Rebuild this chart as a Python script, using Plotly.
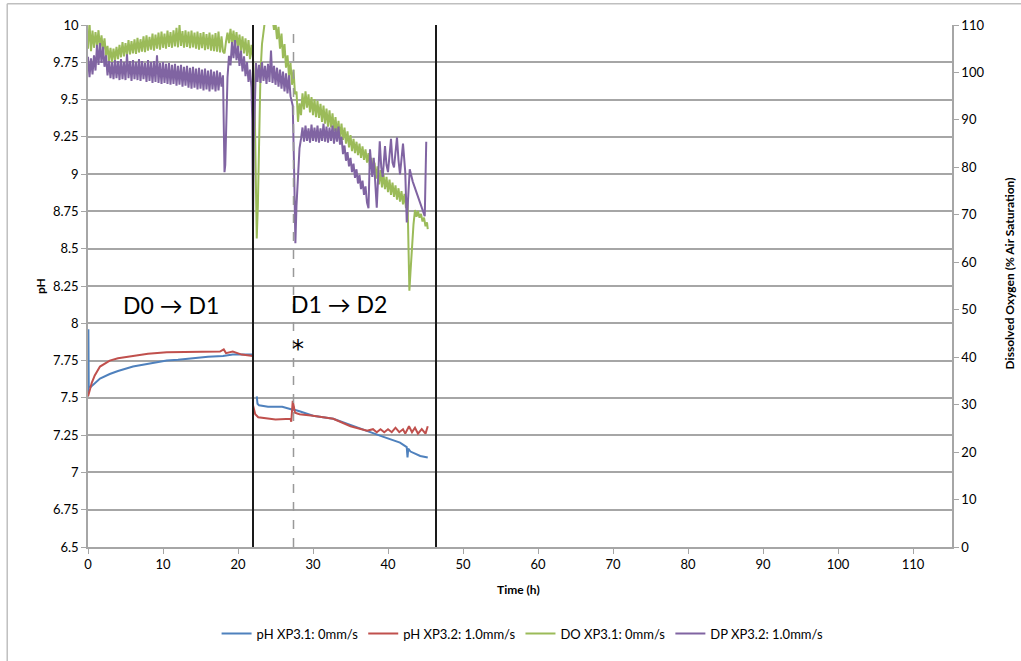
import plotly.graph_objects as go

# ---------------- data ----------------
# pH XP3.1 (blue), time in hours; None breaks the line
ph1_t = [0.0, 0.05, 0.1, 0.3, 0.5, 0.9, 1.6, 2.9, 4.0, 6.0, 8.0, 10.5, 12.0, 14.9, 16.0, 18.0, 19.3, 20.0, 22.0,
         None,
         22.5, 22.6, 22.8, 24.0, 25.9, 26.5, 27.3, 27.4, 27.5, 28.2, 30.0, 32.7, 35.0, 37.2, 39.3, 41.6, 42.5, 42.6,
         42.7, 43.0, 44.3, 45.3]
ph1_v = [7.51, 7.96, 7.58, 7.57, 7.58, 7.60, 7.63, 7.66, 7.68, 7.71, 7.73, 7.75, 7.755, 7.77, 7.775, 7.78, 7.79,
         7.79, 7.79,
         None,
         7.51, 7.46, 7.45, 7.44, 7.44, 7.43, 7.42, 7.44, 7.42, 7.41, 7.38, 7.36, 7.32, 7.28, 7.24, 7.20, 7.17, 7.10,
         7.16, 7.14, 7.11, 7.10]

# pH XP3.2 (red)
ph2_t = [0.0, 0.5, 0.9, 1.6, 2.9, 4.0, 6.0, 8.0, 10.5, 14.9, 17.6, 18.1, 18.4, 19.3, 20.5, 22.0,
         None,
         22.0, 22.3, 22.7, 24.0, 25.0, 27.0, 27.1, 27.3, 27.4, 27.6, 28.2, 30.0, 32.7, 35.0, 37.2, 38.0, 38.5, 39.0,
         39.5, 40.0, 40.5, 41.0, 41.5, 42.0, 42.3, 42.8, 43.2, 43.6, 44.0, 44.5, 45.0, 45.3]
ph2_v = [7.51, 7.60, 7.65, 7.71, 7.75, 7.765, 7.78, 7.795, 7.805, 7.81, 7.81, 7.825, 7.80, 7.81, 7.79, 7.78,
         None,
         7.45, 7.39, 7.37, 7.36, 7.355, 7.36, 7.34, 7.48, 7.45, 7.40, 7.39, 7.38, 7.36, 7.31, 7.28, 7.29, 7.27, 7.29,
         7.27, 7.29, 7.27, 7.30, 7.27, 7.29, 7.26, 7.31, 7.27, 7.30, 7.26, 7.29, 7.26, 7.31]

# DO XP3.1 (green), % air saturation; logged every 0.2 h in regular blocks
do1_a_start, do1_a_step = 0.0, 0.2
do1_a = [105.0, 110.5, 104.5, 108.8, 105.2, 108.5, 105.6, 108.9, 105.0, 107.8, 104.6, 107.2, 103.5, 105.6, 102.4,
         105.2, 102.2, 105.0, 102.6, 105.4, 102.8, 105.8, 103.2, 106.4, 103.4, 106.2, 103.6, 106.8, 103.8, 106.6,
         104.0, 107.0, 103.9, 107.3, 104.2, 107.0, 104.4, 107.6, 104.3, 107.8, 104.6, 107.5, 104.8, 108.2, 104.6,
         108.0, 105.0, 108.4, 104.8, 108.6, 105.2, 108.2, 105.0, 108.8, 105.4, 108.5, 105.2, 108.9, 105.5, 109.4,
         105.3, 110.0, 105.6, 108.7, 105.2, 108.9, 105.4, 108.6, 105.1, 108.8, 105.3, 108.4, 105.0, 108.6, 104.8,
         108.3, 105.1, 108.5, 104.7, 108.1, 104.9, 108.4, 104.6, 108.0, 104.5, 108.3, 104.4, 108.6, 104.2, 107.6,
         104.4]
do1_b_start, do1_b_step = 18.2, 0.2
do1_b = [104.0, 106.5, 108.4, 106.2, 109.2, 106.0, 108.8, 105.6, 108.5, 105.2, 108.0, 104.6, 107.6, 104.0, 107.2,
         103.5, 106.8, 102.8, 105.8]
do1_c_t = [22.0, 22.2, 22.35, 22.5, 22.65, 22.8, 23.0, 23.2, 23.4, 23.6, 23.8, 24.0, 24.2, 24.4, 24.6, 24.8]
do1_c = [103.0, 96.0, 80.0, 65.0, 72.0, 88.0, 100.0, 106.0, 109.0, 111.0, 112.5, 110.5, 112.0, 110.2, 111.5, 109.0]
do1_d_start, do1_d_step = 25.0, 0.2
do1_d = [110.5, 107.0, 109.6, 105.0, 108.2, 103.0, 106.0, 101.0, 103.6, 99.2, 102.0, 97.4, 100.6, 95.4, 96.0,
         89.6, 93.5, 91.0, 95.6, 92.2, 96.0, 92.6, 95.4, 91.6, 94.8, 91.0, 94.4, 90.6, 94.0, 90.4, 93.4, 89.6, 93.0,
         89.2, 92.4, 88.6, 92.0, 88.4, 91.4, 87.6, 90.6, 87.0, 89.8, 86.2, 89.2, 85.8, 88.4, 85.0, 87.6, 84.2, 86.8,
         83.4, 86.0, 83.0, 85.4, 82.6, 85.0, 82.0, 84.4, 81.6, 83.8, 81.0, 83.0, 80.0, 82.0, 78.8, 81.0, 77.6, 80.2,
         76.4, 79.4, 75.8, 78.6, 75.4, 78.0, 74.8, 77.4, 74.2, 76.8, 73.8, 76.2, 73.2, 75.6, 72.8, 75.0, 72.2, 74.4,
         71.4, 73.6]
do1_e_t = [42.75, 42.85, 43.0, 43.2, 43.4, 43.6, 43.8, 44.0, 44.2, 44.4, 44.6, 44.8, 45.0, 45.2, 45.3]
do1_e = [62.0, 54.0, 58.0, 64.0, 68.0, 71.0, 69.6, 70.8, 69.4, 70.2, 68.6, 69.4, 67.6, 68.4, 67.0]

# DP XP3.2 (purple), % air saturation
dp2_a_start, dp2_a_step = 0.0, 0.2
dp2_a = [103.3, 99.0, 103.0, 99.6, 103.6, 100.4, 105.8, 101.6, 106.2, 102.0, 105.4, 101.2, 103.6, 99.4, 102.4,
         98.8, 102.2, 98.6, 102.6, 98.8, 102.4, 98.4, 102.8, 98.6, 102.2, 98.4, 103.8, 98.8, 102.4, 98.2, 102.6,
         98.6, 102.2, 98.4, 102.8, 98.2, 102.4, 98.6, 102.0, 98.0, 102.6, 98.2, 102.2, 97.8, 102.4, 98.0, 103.6,
         97.8, 102.0, 97.6, 102.2, 97.8, 101.8, 97.6, 102.0, 97.4, 101.6, 97.6, 101.8, 97.2, 101.4, 97.4, 101.6,
         97.0, 101.2, 97.2, 101.4, 96.8, 101.0, 96.6, 101.2, 96.8, 100.8, 96.4, 101.0, 96.6, 100.6, 96.2, 100.8,
         96.4, 100.4, 96.0, 100.6, 96.4, 100.2, 96.0, 100.4, 96.2, 100.0, 97.0, 99.4]
dp2_b_t = [18.1, 18.2, 18.3, 18.45, 18.6, 18.8, 19.0, 19.2, 19.4, 19.6, 19.8, 20.0, 20.2, 20.4, 20.6, 20.8, 21.0,
           21.2, 21.4, 21.6, 21.8, 21.9, 22.0, 22.1, 22.3]
dp2_b = [90.0, 79.0, 80.5, 90.0, 99.0, 103.5, 101.5, 106.4, 103.0, 106.8, 102.6, 105.6, 101.4, 104.6, 100.2,
         103.4, 99.2, 102.2, 98.0, 100.6, 96.8, 90.0, 67.0, 85.0, 99.0]
dp2_c_start, dp2_c_step = 22.4, 0.2
dp2_c = [102.0, 98.0, 101.6, 97.8, 102.2, 98.2, 101.4, 97.6, 101.8, 98.0, 104.6, 97.8, 101.4, 97.4, 101.0, 97.0,
         100.6, 96.6, 100.2, 96.0, 99.8, 95.6, 99.4]
dp2_d_t = [27.0, 27.3, 27.5, 27.65, 27.8, 28.0, 28.2, 28.4]
dp2_d = [95.0, 93.0, 78.0, 64.0, 72.0, 80.0, 84.0, 86.0]
dp2_e_start, dp2_e_step = 28.6, 0.2
dp2_e = [88.4, 85.4, 88.8, 85.6, 88.2, 85.2, 89.0, 85.6, 88.4, 85.4, 88.8, 85.2, 88.2, 85.6, 89.2, 85.4, 88.6,
         85.2, 88.4, 85.6, 88.8, 85.0, 88.2, 85.4, 88.6, 84.8, 86.4, 82.8, 84.6, 81.4, 83.2, 80.2, 82.0, 79.0, 80.8,
         77.8, 79.6, 76.6, 78.4, 75.4, 77.2, 74.2, 76.0, 72.6, 71.4]
dp2_f_t = [37.6, 37.9, 38.1, 38.5, 38.9, 39.1, 39.3, 39.6, 39.8, 40.0, 40.4, 40.6, 40.8, 41.2, 41.4, 41.6, 42.0,
           42.3, 42.5, 42.9, 43.3, 43.6, 44.0, 44.4, 44.9, 45.0, 45.1]
dp2_f = [83.8, 78.0, 82.0, 71.5, 85.5, 80.0, 78.0, 84.5, 80.5, 79.0, 86.0, 81.0, 80.0, 86.3, 81.5, 78.5, 85.0,
         79.0, 68.4, 79.6, 77.0, 75.5, 74.0, 72.0, 69.7, 78.0, 85.4]

x_ticks = [0, 10, 20, 30, 40, 50, 60, 70, 80, 90, 100, 110]
ph_ticks = [6.5, 6.75, 7, 7.25, 7.5, 7.75, 8, 8.25, 8.5, 8.75, 9, 9.25, 9.5, 9.75, 10]
ph_tick_text = ["6.5", "6.75", "7", "7.25", "7.5", "7.75", "8", "8.25", "8.5", "8.75", "9", "9.25", "9.5",
                "9.75", "10"]
do_ticks = [0, 10, 20, 30, 40, 50, 60, 70, 80, 90, 100, 110]
transitions = [22.0, 46.4]
sampling_event = 27.4


def regular(start, step, values):
    return [round(start + step * i, 3) for i in range(len(values))]


do1_t = (regular(do1_a_start, do1_a_step, do1_a) + regular(do1_b_start, do1_b_step, do1_b) + do1_c_t
         + regular(do1_d_start, do1_d_step, do1_d) + do1_e_t)
do1_v = do1_a + do1_b + do1_c + do1_d + do1_e
dp2_t = (regular(dp2_a_start, dp2_a_step, dp2_a) + dp2_b_t + regular(dp2_c_start, dp2_c_step, dp2_c) + dp2_d_t
         + regular(dp2_e_start, dp2_e_step, dp2_e) + dp2_f_t)
dp2_v = dp2_a + dp2_b + dp2_c + dp2_d + dp2_e + dp2_f

# ---------------- figure ----------------
FONT = "Lato, 'Open Sans', sans-serif"
GRID = "#A6A6A6"
AXIS = "#A6A6A6"

fig = go.Figure()
fig.add_trace(go.Scatter(x=ph1_t, y=ph1_v, mode="lines", name="pH XP3.1: 0mm/s",
                         line=dict(color="#4F81BD", width=2), yaxis="y"))
fig.add_trace(go.Scatter(x=ph2_t, y=ph2_v, mode="lines", name="pH XP3.2: 1.0mm/s",
                         line=dict(color="#C0504D", width=2), yaxis="y"))
fig.add_trace(go.Scatter(x=do1_t, y=do1_v, mode="lines", name="DO XP3.1: 0mm/s",
                         line=dict(color="#9BBB59", width=2), yaxis="y2"))
fig.add_trace(go.Scatter(x=dp2_t, y=dp2_v, mode="lines", name="DP XP3.2: 1.0mm/s",
                         line=dict(color="#8064A2", width=2), yaxis="y2"))

shapes = []
for t in transitions:
    shapes.append(dict(type="line", xref="x", yref="paper", x0=t, x1=t, y0=0, y1=1,
                       line=dict(color="#1a1a1a", width=2)))
shapes.append(dict(type="line", xref="x", yref="paper", x0=sampling_event, x1=sampling_event, y0=0, y1=1,
                   line=dict(color="#999999", width=1.5, dash="dash")))
# chart-area border (top and left edges visible)
shapes.append(dict(type="line", xref="paper", yref="paper", x0=-0.0935, x1=1.1, y0=1.0405, y1=1.0405,
                   line=dict(color="#BFBFBF", width=1.5)))
shapes.append(dict(type="line", xref="paper", yref="paper", x0=-0.0935, x1=-0.0935, y0=1.0405, y1=-0.23,
                   line=dict(color="#BFBFBF", width=1.5)))

annotations = [
    dict(text="D0 \u2192 D1", x=11, y=8.12, xref="x", yref="y", showarrow=False, xanchor="center",
         yanchor="middle", font=dict(size=23, color="black", family=FONT)),
    dict(text="D1 \u2192 D2", x=33.4, y=8.13, xref="x", yref="y", showarrow=False, xanchor="center",
         yanchor="middle", font=dict(size=23, color="black", family=FONT)),
    dict(text="*", x=28.05, y=7.83, xref="x", yref="y", showarrow=False, xanchor="center", yanchor="middle",
         font=dict(size=24, color="black", family="'DejaVu Sans', sans-serif")),
    dict(text="<b>pH</b>", x=-0.0555, y=0.50, xref="paper", yref="paper", showarrow=False, textangle=-90,
         xanchor="center", yanchor="middle", font=dict(size=12, color="black", family=FONT)),
    dict(text="<b>Dissolved Oxygen (% Air Saturation)</b>", x=1.0665, y=0.525, xref="paper", yref="paper",
         showarrow=False, textangle=-90, xanchor="center", yanchor="middle",
         font=dict(size=12, color="black", family=FONT)),
    dict(text="<b>Time (h)</b>", x=0.4985, y=-0.0815, xref="paper", yref="paper", showarrow=False,
         xanchor="center", yanchor="middle", font=dict(size=12, color="black", family=FONT)),
]

fig.update_layout(
    width=1021, height=661,
    margin=dict(l=88, r=69, t=25, b=112),
    paper_bgcolor="white", plot_bgcolor="white",
    font=dict(family=FONT, size=13, color="black"),
    showlegend=True,
    legend=dict(orientation="h", x=0.503, xanchor="center", y=-0.166, yanchor="middle",
                font=dict(size=13, family=FONT), itemwidth=30, bgcolor="rgba(0,0,0,0)"),
    xaxis=dict(range=[0, 115.2], tickvals=x_ticks, ticks="outside", ticklen=5, tickcolor=AXIS,
               showline=True, linecolor=AXIS, linewidth=1.5, showgrid=False, zeroline=False,
               tickfont=dict(size=13)),
    yaxis=dict(range=[6.5, 10], tickvals=ph_ticks, ticktext=ph_tick_text, ticks="outside", ticklen=5,
               tickcolor=AXIS, showline=True, linecolor=AXIS, linewidth=1.5, showgrid=True, gridcolor=GRID,
               gridwidth=1.5, zeroline=False, tickfont=dict(size=13)),
    yaxis2=dict(range=[0, 110], tickvals=do_ticks, overlaying="y", side="right", ticks="outside", ticklen=5,
                tickcolor=AXIS, showline=True, linecolor=AXIS, linewidth=1.5, showgrid=False, zeroline=False,
                tickfont=dict(size=13)),
    shapes=shapes,
    annotations=annotations,
)

fig.write_html("out.html")
